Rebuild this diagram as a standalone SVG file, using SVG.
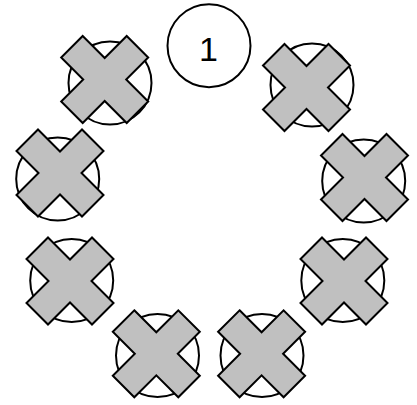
<svg xmlns="http://www.w3.org/2000/svg" width="417" height="405" viewBox="0 0 417 405">
<defs>
<style>
.seat{fill:#fff;stroke:#000;stroke-width:2}
.x{fill:#c0c0c0;stroke:#000;stroke-width:2;stroke-linejoin:miter}
.lbl{font-family:"Liberation Sans",Arial,sans-serif;font-size:34px;fill:#000;text-anchor:middle}
</style>
<path id="cross" d="M-22,-43.5 L0,-21.5 L22,-43.5 L43.5,-22 L21.5,0 L43.5,22 L22,43.5 L0,21.5 L-22,43.5 L-43.5,22 L-21.5,0 L-43.5,-22 Z"/>
</defs>
<rect width="417" height="405" fill="#fff"/>
<g id="connectors"/>
<g id="seat1">
<circle class="seat" cx="209" cy="45.7" r="41.5"/>
<text class="lbl" x="208.5" y="60.5">1</text>
</g>
<g id="seat2">
<circle class="seat" cx="312" cy="85" r="41.5"/>
<use href="#cross" class="x" x="306.5" y="87.5"/>
</g>
<g id="seat3">
<circle class="seat" cx="363.7" cy="181" r="41.5"/>
<use href="#cross" class="x" x="364.5" y="177.5"/>
</g>
<g id="seat4">
<circle class="seat" cx="342.8" cy="280.5" r="41.5"/>
<use href="#cross" class="x" x="344" y="281"/>
</g>
<g id="seat5">
<circle class="seat" cx="262" cy="355.5" r="41.5"/>
<use href="#cross" class="x" x="261.6" y="353.8"/>
</g>
<g id="seat6">
<circle class="seat" cx="157.5" cy="355.5" r="41.5"/>
<use href="#cross" class="x" x="156.3" y="353.8"/>
</g>
<g id="seat7">
<circle class="seat" cx="71.7" cy="280.5" r="41.5"/>
<use href="#cross" class="x" x="70" y="281"/>
</g>
<g id="seat8">
<circle class="seat" cx="57.7" cy="179" r="41.5"/>
<use href="#cross" class="x" x="60" y="173"/>
</g>
<g id="seat9">
<circle class="seat" cx="110" cy="83" r="41.5"/>
<use href="#cross" class="x" x="104.7" y="79.5"/>
</g>
</svg>
